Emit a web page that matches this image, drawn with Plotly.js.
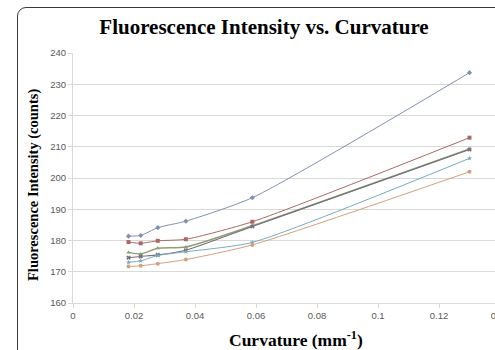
<!DOCTYPE html>
<html>
<head>
<meta charset="utf-8">
<script src="https://cdn.plot.ly/plotly-3.0.1.min.js"></script>
<style>
  html, body { margin: 0; padding: 0; width: 495px; height: 350px; overflow: hidden; background: #fff; }
  #frame { position: absolute; left: 17px; top: 7px; width: 560px; height: 420px;
           border: 1.5px solid #3a3a3a; border-radius: 9px; }
  #chart { position: absolute; left: 0; top: 0; width: 530px; height: 350px; }
</style>
</head>
<body>
<div id="frame"></div>
<div id="chart"></div>
<script>
// Curvature (mm^-1)
const curvature = [0.0182, 0.0222, 0.0278, 0.037, 0.0588, 0.13];
// Fluorescence intensity (counts) per series
const series1 = [181.4, 181.6, 184.1, 186.2, 193.7, 233.7];
const series2 = [179.5, 179.1, 179.9, 180.4, 186.0, 212.9];
const series3 = [176.2, 175.7, 177.5, 177.9, 184.7, 209.3];
const series4 = [174.5, 174.9, 175.4, 176.9, 184.5, 209.1];
const series5 = [173.0, 173.5, 175.2, 176.4, 179.4, 206.3];
const series6 = [171.7, 171.9, 172.6, 173.9, 178.6, 202.0];
const xTicks = [0, 0.02, 0.04, 0.06, 0.08, 0.1, 0.12, 0.14];
const xTickText = ["0", "0.02", "0.04", "0.06", "0.08", "0.1", "0.12", "0.14"];
const yTicks = [160, 170, 180, 190, 200, 210, 220, 230, 240];

const seriesList = [
  {y: series1, color: "#8290b2", symbol: "diamond", width: 1},
  {y: series2, color: "#ad6865", symbol: "square", width: 1},
  {y: series3, color: "#909f72", symbol: "triangle-up", width: 1.5},
  {y: series4, color: "#75707e", symbol: "x", width: 1.1},
  {y: series5, color: "#78acbd", symbol: "star", width: 1},
  {y: series6, color: "#d3a07f", symbol: "circle", width: 1}
];

const traces = seriesList.map(s => ({
  x: curvature, y: s.y, type: "scatter", mode: "lines+markers",
  line: {color: s.color, width: s.width, shape: "spline", smoothing: 0.6},
  marker: {color: s.color, symbol: s.symbol, size: 4, line: {width: 0, color: s.color}},
  showlegend: false, hoverinfo: "x+y"
}));

const serif = "Liberation Serif, Times New Roman, serif";
const layout = {
  width: 530, height: 350,
  margin: {l: 73, r: 30, t: 53, b: 47},
  paper_bgcolor: "rgba(0,0,0,0)", plot_bgcolor: "rgba(0,0,0,0)",
  title: {
    text: "<b>Fluorescence Intensity vs. Curvature</b>",
    font: {family: serif, size: 21, color: "#000"},
    xref: "container", yref: "container", x: 264/530, y: 1 - 27/350,
    xanchor: "center", yanchor: "middle"
  },
  xaxis: {
    range: [0, 0.14], tickvals: xTicks, ticktext: xTickText,
    showgrid: false, zeroline: false, showline: true, linecolor: "#d9d9d9", linewidth: 1,
    ticks: "outside", ticklen: 4, tickcolor: "#d9d9d9",
    tickfont: {family: "Liberation Sans, Arial, sans-serif", size: 9.5, color: "#595959"}
  },
  yaxis: {
    range: [160, 240], tickvals: yTicks,
    showgrid: true, gridcolor: "#d9d9d9", gridwidth: 1,
    zeroline: false, showline: true, linecolor: "#d9d9d9", linewidth: 1,
    ticks: "outside", ticklen: 4, tickcolor: "#d9d9d9",
    tickfont: {family: "Liberation Sans, Arial, sans-serif", size: 9.5, color: "#595959"}
  },
  annotations: [
    {text: "<b>Curvature (mm<sup>-1</sup>)</b>", xref: "paper", yref: "paper",
     x: (296 - 73) / 427, y: (303 - 339) / 250, xanchor: "center", yanchor: "middle",
     showarrow: false, font: {family: serif, size: 17.5, color: "#000"}},
    {text: "<b>Fluorescence Intensity (counts)</b>", xref: "paper", yref: "paper",
     x: (33 - 73) / 427, y: (303 - 185) / 250, xanchor: "center", yanchor: "middle",
     textangle: -90, showarrow: false, font: {family: serif, size: 14.5, color: "#000"}}
  ]
};

Plotly.newPlot("chart", traces, layout, {displayModeBar: false, staticPlot: true});
</script>
</body>
</html>
